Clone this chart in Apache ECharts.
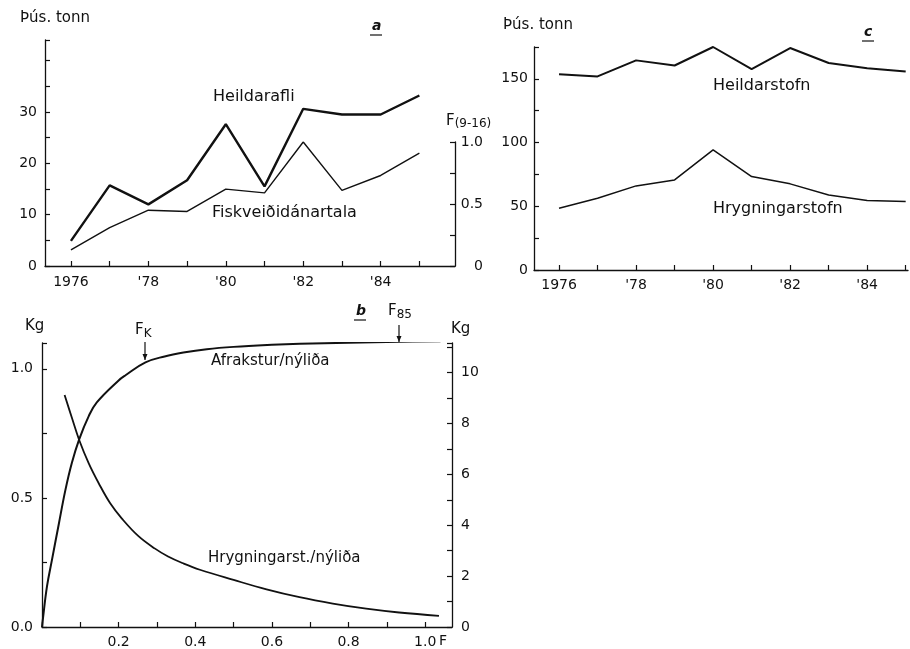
<!DOCTYPE html>
<html>
<head>
<meta charset="utf-8">
<script src="https://cdn.jsdelivr.net/npm/echarts@6/dist/echarts.min.js"></script>
<style>
  html, body { margin: 0; padding: 0; background: #fff; }
  #chart { width: 910px; height: 649px; }
</style>
</head>
<body>
<div id="chart"></div>
<script>
// panel a + c: yearly series
const years = [1976, 1977, 1978, 1979, 1980, 1981, 1982, 1983, 1984, 1985]
const yearLabels = [1976, 1978, 1980, 1982, 1984]
const heildarafli = [4.9, 15.7, 12.0, 16.7, 27.6, 15.5, 30.6, 29.5, 29.5, 33.2]
const fiskveidi = [0.13, 0.31, 0.45, 0.44, 0.62, 0.59, 1.0, 0.61, 0.73, 0.91]
const heildarstofn = [153.7, 151.9, 164.5, 160.5, 175, 157.7, 174.2, 162.4, 158.4, 155.8]
const hrygningarstofn = [48.5, 56.3, 66, 70.7, 94.3, 73.3, 67.6, 58.9, 54.5, 53.7]

// panel b: per-recruit curves against F
const afraksturF = [0, 0.002, 0.013, 0.026, 0.044, 0.061, 0.078, 0.097, 0.122, 0.143, 0.2, 0.218, 0.27, 0.32, 0.369, 0.43, 0.5, 0.6, 0.673, 0.8, 0.933, 1.04]
const afraksturKg = [0, 0.027, 0.157, 0.26, 0.4, 0.53, 0.636, 0.727, 0.817, 0.87, 0.955, 0.975, 1.025, 1.048, 1.063, 1.076, 1.085, 1.093, 1.097, 1.101, 1.105, 1.107]
const hrygnF = [0.059, 0.078, 0.097, 0.122, 0.148, 0.178, 0.208, 0.251, 0.295, 0.329, 0.37, 0.412, 0.5, 0.586, 0.672, 0.759, 0.846, 0.932, 1.036]
const hrygnKg = [9.12, 8.22, 7.35, 6.43, 5.65, 4.86, 4.27, 3.58, 3.08, 2.77, 2.49, 2.25, 1.85, 1.48, 1.17, 0.92, 0.72, 0.57, 0.44]

const FONT = '"DejaVu Sans", sans-serif'
const INK = '#111'

const pairs = (xs, ys) => xs.map((x, i) => [x, ys[i]])

function yearLabel(v) {
  return v === 1976 ? '1976' : "'" + String(v).slice(2)
}

function axisBase(extra) {
  return Object.assign({
    axisLine: { show: true, onZero: false, lineStyle: { color: INK, width: 1.3 } },
    axisTick: { show: true, inside: true, length: 5, lineStyle: { color: INK, width: 1.2 } },
    axisLabel: { color: INK, fontFamily: FONT, fontSize: 14 },
    splitLine: { show: false },
  }, extra)
}

function pickLabel(list, fmt) {
  return (v) => {
    const hit = list.find((x) => Math.abs(x - v) < 1e-6)
    return hit === undefined ? '' : fmt(hit)
  }
}

function text(left, top, str, size, style) {
  return {
    type: 'text', left, top,
    style: { text: str, fill: INK, font: (style || '') + ' ' + (size || 16) + 'px ' + FONT },
  }
}

function underline(x1, x2, y) {
  return { type: 'line', shape: { x1, y1: y, x2, y2: y }, style: { stroke: INK, lineWidth: 1.2 } }
}

function arrow(x, y1, y2) {
  return [
    { type: 'line', shape: { x1: x, y1, x2: x, y2 }, style: { stroke: INK, lineWidth: 1.2 } },
    { type: 'polygon', shape: { points: [[x - 2.5, y2 - 6], [x + 2.5, y2 - 6], [x, y2]] }, style: { fill: INK } },
  ]
}

function subText(left, top, main, sub, subPad) {
  return {
    type: 'text', left, top,
    style: {
      text: '{f|' + main + '}{s|' + sub + '}', fill: INK,
      rich: { f: { font: '15px ' + FONT }, s: { font: '12px ' + FONT, padding: [subPad, 0, 0, 0] } },
    },
  }
}

const chart = echarts.init(document.getElementById('chart'), null, { renderer: 'canvas' })

chart.setOption({
  animation: false,
  backgroundColor: '#fff',
  grid: [
    { left: 45, top: 40, width: 410, height: 226 },
    { left: 45, top: 142, width: 410, height: 124 },
    { left: 534, top: 47, width: 374, height: 223 },
    { left: 42, top: 343, width: 410, height: 284 },
  ],
  xAxis: [
    axisBase({
      gridIndex: 0, type: 'value', min: 1975.33, max: 1985.92,
      axisTick: { show: true, inside: true, length: 5, customValues: years, lineStyle: { color: INK, width: 1.2 } },
      axisLabel: { color: INK, fontFamily: FONT, fontSize: 14, margin: 9, customValues: yearLabels, formatter: yearLabel },
    }),
    { gridIndex: 1, type: 'value', min: 1975.33, max: 1985.92, show: false },
    axisBase({
      gridIndex: 2, type: 'value', min: 1975.35, max: 1985.06,
      axisTick: { show: true, inside: true, length: 5, customValues: years, lineStyle: { color: INK, width: 1.2 } },
      axisLabel: { color: INK, fontFamily: FONT, fontSize: 14, margin: 8, customValues: yearLabels, formatter: yearLabel },
    }),
    axisBase({
      gridIndex: 3, type: 'value', min: 0, max: 1.07, interval: 0.1,
      axisLabel: {
        color: INK, fontFamily: FONT, fontSize: 14, margin: 8, showMaxLabel: false,
        formatter: pickLabel([0.2, 0.4, 0.6, 0.8, 1.0], (v) => v.toFixed(1)),
      },
    }),
  ],
  yAxis: [
    axisBase({
      gridIndex: 0, type: 'value', min: 0, max: 44, interval: 5,
      axisLabel: { color: INK, fontFamily: FONT, fontSize: 14, margin: 8, formatter: pickLabel([0, 10, 20, 30], String) },
    }),
    axisBase({
      gridIndex: 1, type: 'value', position: 'right', min: 0, max: 1, interval: 0.25,
      axisLabel: {
        color: INK, fontFamily: FONT, fontSize: 14, margin: 28, align: 'right',
        formatter: pickLabel([0, 0.5, 1], (v) => (v === 0 ? '0' : v.toFixed(1))),
      },
    }),
    axisBase({
      gridIndex: 2, type: 'value', min: 0, max: 175, interval: 25,
      axisLabel: { color: INK, fontFamily: FONT, fontSize: 14, margin: 6, formatter: pickLabel([0, 50, 100, 150], String) },
    }),
    axisBase({
      gridIndex: 3, type: 'value', min: 0, max: 1.1, interval: 0.25,
      axisLabel: { color: INK, fontFamily: FONT, fontSize: 14, margin: 9, formatter: pickLabel([0, 0.5, 1], (v) => v.toFixed(1)) },
    }),
    axisBase({
      gridIndex: 3, type: 'value', position: 'right', min: 0, max: 11.16, interval: 1,
      axisLabel: { color: INK, fontFamily: FONT, fontSize: 14, margin: 9, formatter: pickLabel([0, 2, 4, 6, 8, 10], String) },
    }),
  ],
  series: [
    {
      name: 'Heildarafli', type: 'line', xAxisIndex: 0, yAxisIndex: 0,
      data: pairs(years, heildarafli), showSymbol: false,
      lineStyle: { color: INK, width: 2.4 },
    },
    {
      name: 'Fiskveiðidánartala', type: 'line', xAxisIndex: 1, yAxisIndex: 1,
      data: pairs(years, fiskveidi), showSymbol: false,
      lineStyle: { color: INK, width: 1.4 },
    },
    {
      name: 'Heildarstofn', type: 'line', xAxisIndex: 2, yAxisIndex: 2,
      data: pairs(years, heildarstofn), showSymbol: false,
      lineStyle: { color: INK, width: 2 },
    },
    {
      name: 'Hrygningarstofn', type: 'line', xAxisIndex: 2, yAxisIndex: 2,
      data: pairs(years, hrygningarstofn), showSymbol: false,
      lineStyle: { color: INK, width: 1.5 },
    },
    {
      name: 'Afrakstur/nýliða', type: 'line', xAxisIndex: 3, yAxisIndex: 3,
      data: pairs(afraksturF, afraksturKg), showSymbol: false, smooth: 0.4,
      lineStyle: { color: INK, width: 2 },
    },
    {
      name: 'Hrygningarst./nýliða', type: 'line', xAxisIndex: 3, yAxisIndex: 4,
      data: pairs(hrygnF, hrygnKg), showSymbol: false, smooth: 0.4,
      lineStyle: { color: INK, width: 1.8 },
    },
  ],
  graphic: [
    // panel a
    text(20, 11, 'Þús. tonn', 15),
    text(372, 19, 'a', 14, 'italic bold'),
    underline(370, 382, 35),
    text(213, 89, 'Heildarafli'),
    text(212, 205, 'Fiskveiðidánartala'),
    subText(446, 114, 'F', '(9-16)', 4),
    // panel c
    text(503, 18, 'Þús. tonn', 15),
    text(864, 25, 'c', 14, 'italic bold'),
    underline(862, 874, 41),
    text(713, 78, 'Heildarstofn'),
    text(713, 201, 'Hrygningarstofn'),
    // panel b
    text(25, 319, 'Kg', 15),
    text(451, 322, 'Kg', 15),
    text(356, 304, 'b', 14, 'italic bold'),
    underline(354, 366, 320),
    subText(135, 323, 'F', 'K', 6),
    ...arrow(145, 342, 360),
    subText(388, 304, 'F', '85', 6),
    ...arrow(399, 325, 342),
    text(211, 354, 'Afrakstur/nýliða', 15),
    text(208, 551, 'Hrygningarst./nýliða', 15),
    text(439, 634, 'F', 14),
  ],
})
</script>
</body>
</html>
